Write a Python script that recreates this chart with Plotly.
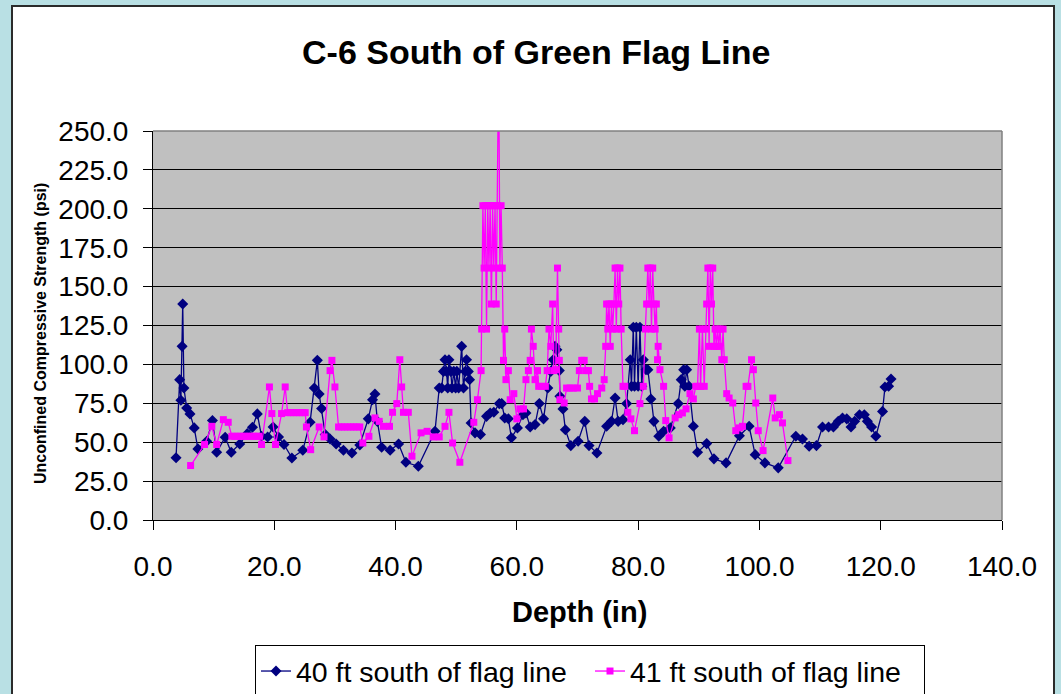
import plotly.graph_objects as go

# ---------------- data ----------------
depth_40 = [3.8, 4.4, 4.6, 4.8, 4.9, 5.1, 5.55, 6.1, 6.8, 7.4,
            8.85, 9.8, 10.5, 11.9, 12.9, 14.3, 15.55, 16.4, 17.2, 17.9,
            18.9, 19.8, 20.7, 21.6, 22.9, 24.7, 25.9, 26.6, 27.1, 27.4,
            27.8, 28.4, 29.2, 30.2, 31.4, 32.8, 34.1, 35.5, 36.2, 36.6,
            37.0, 37.7, 39.1, 40.5, 41.7, 43.75, 46.5, 47.2, 47.6, 47.9,
            48.15, 48.4, 48.6, 48.8, 49.1, 49.3, 49.6, 49.9, 50.1, 50.4,
            50.9, 51.2, 51.5, 51.7, 52.0, 52.2, 52.45, 53.1, 54.0, 55.0,
            55.6, 56.2, 57.1, 57.5, 58.0, 58.6, 59.1, 60.1, 61.0, 61.5,
            62.2, 63.0, 63.7, 64.4, 65.1, 65.6, 66.0, 66.3, 66.6, 67.0,
            67.1, 67.6, 68.0, 68.9, 70.1, 71.2, 71.9, 73.2, 74.8, 75.6,
            76.2, 76.7, 77.5, 78.1, 78.7, 78.9, 79.2, 79.4, 79.7, 80.0,
            80.3, 80.6, 80.85, 81.3, 81.6, 82.1, 82.6, 83.4, 84.2, 85.3,
            86.6, 87.1, 87.5, 87.7, 88.0, 88.4, 89.1, 89.8, 91.3, 92.5,
            94.5, 96.7, 98.3, 99.3, 100.9, 103.1, 106.0, 107.1, 108.2, 109.4,
            110.4, 111.4, 112.2, 113.0, 113.7, 114.4, 115.1, 115.7, 116.5, 117.3,
            117.8, 118.5, 119.2, 120.3, 120.7, 121.3, 121.7]
ucs_40 = [40, 90.2, 76.9, 111.6, 138.8, 84.8, 72, 68.2, 59.2, 45.7,
          50.6, 64, 43.5, 53.2, 43.5, 48.9, 55.5, 59.6, 68.2, 53.8,
          53.4, 59.8, 53.4, 48.5, 39.9, 44.8, 62.8, 84.8, 102.6, 81,
          71.6, 54.9, 52.1, 48.9, 44.8, 43.1, 48.2, 65, 77.3, 81,
          63.4, 46.7, 44.8, 48.9, 37.1, 34.5, 57, 84.8, 84.8, 95.5,
          103, 95.5, 84.8, 103, 95.5, 84.8, 95.5, 84.8, 95.5, 84.8,
          111.6, 84.8, 95.5, 103, 95.5, 90.2, 62.4, 56, 55, 66.6,
          68.8, 69.2, 74.8, 74.8, 65.6, 65.1, 52.8, 59.2, 67.7, 68.8,
          59.8, 61.3, 74.8, 65, 84.8, 95.5, 103, 111.6, 109.4, 96,
          79.5, 71.4, 58, 47.8, 50.6, 63.4, 47.8, 43.1, 60.2, 63.4,
          78.4, 63.4, 64.5, 74.8, 103, 85.9, 123.8, 85.9, 123.8, 85.9,
          123.8, 85.9, 103, 96.6, 96.6, 77.8, 63.4, 53.8, 57, 59.2,
          74.8, 90.2, 96.6, 85.9, 96.6, 85.9, 60.2, 43.5, 49.1, 39.3,
          36.7, 54.2, 60.2, 42, 36.7, 33.5, 53.8, 52.1, 47.4, 47.8,
          59.8, 59.8, 59.8, 63.4, 65.6, 65, 59.8, 63.4, 67.7, 67.7,
          63.4, 59.8, 53.8, 69.8, 85.5, 85.9, 90.6]

depth_41 = [6.2, 8.5, 9.7, 10.5, 11.6, 12.4, 13.0, 13.5, 14.0, 14.5,
            15.0, 15.5, 16.0, 16.5, 17.0, 17.4, 17.9, 19.2, 19.6, 20.2,
            21.2, 21.8, 22.2, 22.7, 23.2, 23.7, 24.2, 24.7, 25.1, 25.3,
            26.0, 27.4, 28.2, 29.2, 29.5, 30.0, 30.6, 31.1, 31.6, 32.1,
            32.6, 33.1, 33.6, 34.1, 34.6, 35.6, 36.6, 37.3, 38.0, 39.0,
            39.5, 40.2, 40.7, 41.0, 41.3, 42.1, 42.7, 44.2, 45.2, 46.2,
            47.2, 48.15, 48.8, 49.4, 50.6, 52.9, 53.5, 54.1, 54.2, 54.4,
            54.6, 54.8, 55.0, 55.2, 55.4, 55.6, 55.8, 56.0, 56.2, 56.4,
            56.6, 56.8, 57.0, 57.2, 57.4, 57.6, 57.8, 58.0, 58.2, 58.6,
            58.9, 59.5, 60.0, 60.5, 61.1, 61.5, 61.9, 62.2, 62.4, 62.7,
            63.0, 63.4, 63.6, 64.1, 64.7, 65.0, 65.3, 65.6, 65.9, 66.1,
            66.4, 66.7, 66.9, 67.0, 67.1, 67.8, 68.2, 68.8, 69.3, 70.0,
            70.3, 70.7, 71.1, 71.4, 71.8, 72.0, 72.3, 72.8, 73.3, 74.0,
            74.4, 74.65, 74.8, 75.0, 75.2, 75.4, 75.6, 75.8, 76.0, 76.2,
            76.4, 76.6, 76.8, 77.0, 77.2, 77.5, 77.8, 78.3, 78.8, 79.4,
            80.3, 80.85, 81.2, 81.4, 81.6, 81.8, 82.0, 82.2, 82.4, 82.6,
            82.8, 83.0, 83.2, 83.3, 83.6, 84.2, 84.55, 85.1, 86.1, 86.7,
            87.3, 87.9, 88.55, 89.1, 89.5, 89.8, 90.1, 90.3, 90.6, 90.9,
            91.1, 91.3, 91.5, 91.7, 91.9, 92.1, 92.3, 92.5, 92.7, 92.9,
            93.1, 93.3, 93.5, 93.8, 94.0, 94.2, 94.6, 95.0, 95.6, 96.1,
            96.7, 97.2, 97.8, 98.1, 98.7, 99.0, 99.4, 99.8, 100.6, 102.2,
            102.6, 103.3, 103.8, 104.7]
ucs_41 = [35, 48.5, 60.2, 48.5, 64.5, 62.8, 53.8, 53.8, 53.8, 53.8,
          53.8, 53.8, 53.8, 53.8, 53.8, 53.8, 48.5, 85.5, 68.4, 48.5,
          68.4, 85.5, 69, 69, 69, 69, 69, 69, 69, 59.8,
          45.2, 59.8, 53.4, 96, 102.6, 85.5, 59.8, 59.8, 59.8, 59.8,
          59.8, 59.8, 59.8, 59.8, 49.5, 53.8, 65.6, 63.4, 60.2, 60.2,
          69.2, 74.8, 103, 85.5, 69.2, 69.2, 41, 56, 57, 53.4,
          53.4, 60.2, 69.2, 49.5, 37.1, 62.8, 77.3, 96, 122.7, 202,
          161.9, 202, 122.7, 202, 161.9, 202, 138.8, 202, 161.9, 202,
          138.8, 202, 300, 161.9, 202, 161.9, 102.6, 122.7, 90.2, 96,
          77.3, 81.2, 65, 71.4, 71.4, 90.2, 96, 102.6, 122.7, 111.6,
          90.2, 96, 85.9, 85.9, 85.9, 96, 122.7, 111.6, 138.8, 96,
          96.6, 161.9, 122.7, 102.6, 77.3, 75.2, 84.8, 84.8, 84.8, 84.8,
          96, 102.6, 102.6, 96, 96, 85.9, 77.8, 77.8, 81.2, 84.8,
          90.2, 111.6, 138.8, 122.7, 138.8, 111.6, 138.8, 122.7, 138.8, 161.9,
          122.7, 161.9, 138.8, 161.9, 122.7, 85.9, 85.9, 69.2, 65, 57.4,
          74.8, 85.9, 122.7, 138.8, 161.9, 138.8, 161.9, 122.7, 161.9, 138.8,
          122.7, 138.8, 103, 111.6, 96.6, 85.9, 63.9, 52.8, 65.6, 67.7,
          68.8, 71.4, 81.2, 77.8, 85.9, 85.9, 122.7, 85.9, 122.7, 85.9,
          122.7, 138.8, 161.9, 111.6, 161.9, 138.8, 161.9, 111.6, 122.7, 111.6,
          122.7, 111.6, 122.7, 103, 122.7, 103, 81.2, 78.4, 75.2, 57.4,
          59.2, 60.2, 85.9, 85.9, 103, 96.6, 75.2, 57.4, 44.6, 78.4,
          65.6, 67.7, 62.4, 38.2]

series_names = ["40 ft south of flag line", "41 ft south of flag line"]
chart_title = "C-6 South of Green Flag Line"
x_title = "Depth (in)"
y_title = "Unconfined Compressive Strength (psi)"
x_ticks = [0, 20, 40, 60, 80, 100, 120, 140]
y_ticks = [0, 25, 50, 75, 100, 125, 150, 175, 200, 225, 250]

# ---------------- figure ----------------
FONT = "Liberation Sans, Arial, sans-serif"
OUTER = "#B9E0E4"

fig = go.Figure()
fig.add_trace(go.Scatter(
    x=depth_40, y=ucs_40, name=series_names[0], mode="lines+markers",
    line=dict(color="#000080", width=1.3),
    marker=dict(symbol="diamond", size=8.5, color="#000080"),
))
fig.add_trace(go.Scatter(
    x=depth_41, y=ucs_41, name=series_names[1], mode="lines+markers",
    line=dict(color="#FF00FF", width=1.3),
    marker=dict(symbol="square", size=7, color="#FF00FF"),
))

L, R, T, B = 153, 1002, 131, 520
W, H = 1061, 694


def px(xp):
    return (xp - L) / (R - L)


def py(yp):
    return (B - yp) / (B - T)


fig.update_layout(
    width=W, height=H,
    margin=dict(l=L, r=W - R, t=T, b=H - B, autoexpand=False),
    paper_bgcolor="white",
    plot_bgcolor="#C0C0C0",
    font=dict(family=FONT, color="black"),
    showlegend=True,
    legend=dict(
        orientation="h", x=px(590), xanchor="center", y=py(645), yanchor="top",
        bgcolor="white", bordercolor="black", borderwidth=1,
        font=dict(size=28.5, family=FONT), tracegroupgap=0,
        entrywidth=289, entrywidthmode="pixels",
    ),
    shapes=[
        # light-blue surround of the chart sheet
        dict(type="rect", xref="paper", yref="paper", layer="above",
             x0=px(-5), x1=px(12), y0=py(720), y1=py(-5),
             fillcolor=OUTER, line=dict(width=0)),
        dict(type="rect", xref="paper", yref="paper", layer="above",
             x0=px(-5), x1=px(1070), y0=py(6), y1=py(-5),
             fillcolor=OUTER, line=dict(width=0)),
        dict(type="rect", xref="paper", yref="paper", layer="above",
             x0=px(1054), x1=px(1070), y0=py(720), y1=py(-5),
             fillcolor=OUTER, line=dict(width=0)),
        dict(type="rect", xref="paper", yref="paper", layer="above",
             x0=px(12), x1=px(1054), y0=py(720), y1=py(6),
             fillcolor="rgba(0,0,0,0)", line=dict(color="#2b2b2b", width=2)),
        # grey top/right frame of the plot area
        dict(type="line", xref="paper", yref="paper", x0=0, x1=1, y0=1, y1=1,
             line=dict(color="#808080", width=1.5)),
        dict(type="line", xref="paper", yref="paper", x0=1, x1=1, y0=0, y1=1,
             line=dict(color="#808080", width=1.5)),
    ],
    annotations=[
        dict(text="<b>" + chart_title + "</b>", xref="paper", yref="paper",
             x=px(536), y=py(52), xanchor="center", yanchor="middle",
             showarrow=False, font=dict(size=34, family=FONT)),
        dict(text="<b>" + x_title + "</b>", xref="paper", yref="paper",
             x=px(579), y=py(612), xanchor="center", yanchor="middle",
             showarrow=False, font=dict(size=29, family=FONT)),
        dict(text="<b>" + y_title + "</b>", xref="paper", yref="paper",
             x=px(40), y=py(334), xanchor="center", yanchor="middle",
             textangle=-90, showarrow=False, font=dict(size=16, family=FONT)),
    ],
)

fig.update_xaxes(
    range=[0, 140], tickvals=x_ticks, tickformat=".1f",
    ticks="outside", ticklen=9, tickcolor="black", tickwidth=1,
    showline=True, linecolor="black", linewidth=1,
    showgrid=False, zeroline=False,
    tickfont=dict(size=28, family=FONT, color="black"),
    ticklabelstandoff=12,
)
fig.update_yaxes(
    range=[0, 250], tickvals=y_ticks, tickformat=".1f",
    ticks="outside", ticklen=9, tickcolor="black", tickwidth=1,
    showline=True, linecolor="black", linewidth=1,
    showgrid=True, gridcolor="black", gridwidth=1, zeroline=False,
    tickfont=dict(size=28, family=FONT, color="black"),
    ticklabelstandoff=9,
)

fig.write_html(
    "out.html",
    config={"displayModeBar": False},
    post_script="document.body.style.margin='0';"
                "document.body.style.overflow='hidden';"
                "document.body.style.background='" + OUTER + "';",
)
